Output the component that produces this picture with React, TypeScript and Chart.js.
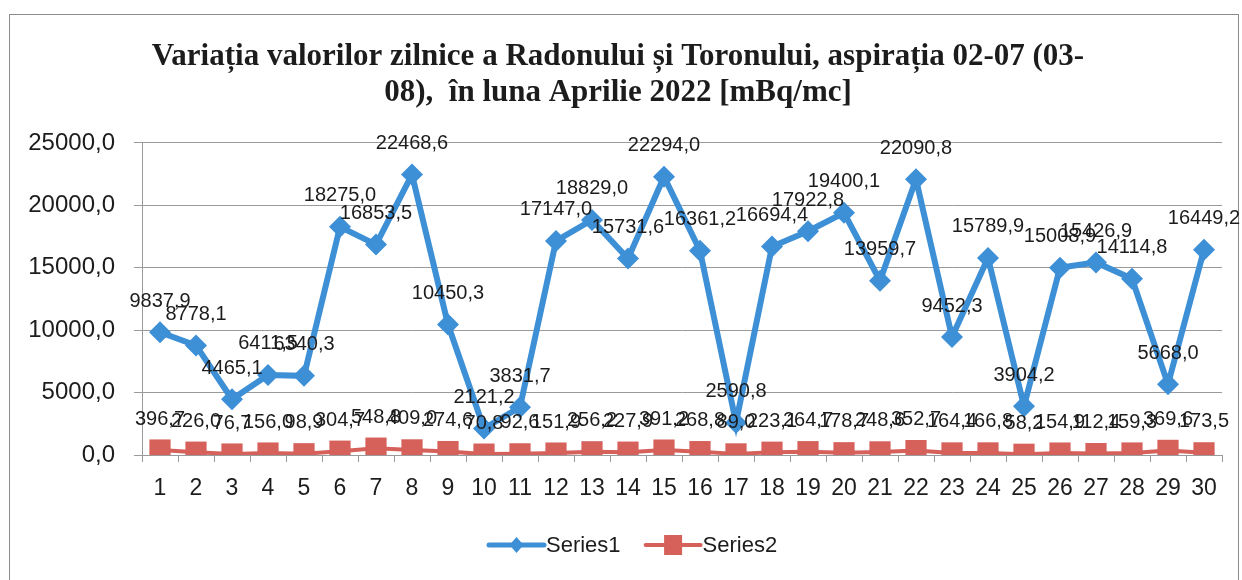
import React, { useEffect, useRef } from 'react';
import { Chart, registerables } from 'chart.js';

Chart.register(...registerables);

const titleLines = [
  'Variația valorilor zilnice a Radonului și Toronului, aspirația 02-07 (03-',
  '08),  în luna Aprilie 2022 [mBq/mc]',
];
const days = ['1', '2', '3', '4', '5', '6', '7', '8', '9', '10', '11', '12', '13', '14', '15', '16', '17', '18', '19', '20', '21', '22', '23', '24', '25', '26', '27', '28', '29', '30'];
const series1Name = 'Series1';
const series2Name = 'Series2';
const series1 = [9837.9, 8778.1, 4465.1, 6411.5, 6340.3, 18275.0, 16853.5, 22468.6, 10450.3, 2121.2, 3831.7, 17147.0, 18829.0, 15731.6, 22294.0, 16361.2, 2590.8, 16694.4, 17922.8, 19400.1, 13959.7, 22090.8, 9452.3, 15789.9, 3904.2, 15008.9, 15426.9, 14114.8, 5668.0, 16449.2];
const series2 = [396.7, 226.0, 76.7, 156.0, 98.9, 304.7, 548.8, 409.0, 274.6, 70.8, 92.6, 151.9, 256.2, 227.9, 391.2, 268.8, 89.0, 223.1, 264.7, 178.7, 248.6, 352.7, 164.4, 166.8, 58.2, 154.9, 112.4, 159.3, 369.6, 173.5];
const yMin = 0;
const yMax = 25000;
const yStep = 5000;

const BLUE = '#3d8fd6';
const RED = '#d6605a';
const TEXT = '#1c1c1c';
const GRID = '#9a9a9a';
const SANS = '"Liberation Sans", Arial, sans-serif';

const fmt = (v: number) => v.toFixed(1).replace('.', ',');

const dataLabelPlugin = {
  id: 'dataLabels',
  afterDatasetsDraw(chart: any) {
    const ctx = chart.ctx;
    ctx.save();
    ctx.font = `20px ${SANS}`;
    ctx.fillStyle = TEXT;
    ctx.textAlign = 'center';
    ctx.textBaseline = 'middle';
    chart.data.datasets.forEach((ds: any, i: number) => {
      const meta = chart.getDatasetMeta(i);
      meta.data.forEach((pt: any, j: number) => {
        ctx.fillText(fmt(ds.data[j]), pt.x, pt.y - 31);
      });
    });
    ctx.restore();
  },
};

const legendPlugin = {
  id: 'excelLegend',
  afterDraw(chart: any) {
    const ctx = chart.ctx;
    const y = 545;
    let x = 489;
    ctx.save();
    ctx.font = `22px ${SANS}`;
    ctx.textBaseline = 'middle';
    ctx.textAlign = 'left';
    chart.data.datasets.forEach((ds: any, i: number) => {
      const lineLen = 55;
      ctx.strokeStyle = ds.borderColor;
      ctx.lineWidth = i === 0 ? 5 : 4;
      ctx.lineCap = 'round';
      ctx.beginPath();
      ctx.moveTo(x, y);
      ctx.lineTo(x + lineLen, y);
      ctx.stroke();
      const cx = x + lineLen / 2;
      ctx.fillStyle = ds.backgroundColor;
      ctx.beginPath();
      if (i === 0) {
        ctx.moveTo(cx, y - 8);
        ctx.lineTo(cx + 7, y);
        ctx.lineTo(cx, y + 8);
        ctx.lineTo(cx - 7, y);
        ctx.closePath();
      } else {
        ctx.rect(cx - 9, y - 10, 18, 20);
      }
      ctx.fill();
      ctx.fillStyle = TEXT;
      const tx = x + lineLen + 2;
      ctx.fillText(ds.label, tx, y + 1);
      x = tx + ctx.measureText(ds.label).width + 25;
    });
    ctx.restore();
  },
};

export default function App() {
  const canvasRef = useRef<HTMLCanvasElement | null>(null);

  useEffect(() => {
    const canvas = canvasRef.current;
    if (!canvas) return;
    const chart = new Chart(canvas, {
      type: 'line',
      data: {
        labels: days,
        datasets: [
          {
            label: series1Name,
            data: series1,
            borderColor: BLUE,
            backgroundColor: BLUE,
            borderWidth: 6,
            pointStyle: 'rectRot',
            pointRadius: 11,
            pointBorderWidth: 0,
            pointBackgroundColor: BLUE,
            tension: 0,
          },
          {
            label: series2Name,
            data: series2,
            borderColor: RED,
            backgroundColor: RED,
            borderWidth: 4,
            pointStyle: 'rect',
            pointRadius: 15,
            pointBorderWidth: 0,
            pointBackgroundColor: RED,
            tension: 0,
          },
        ],
      },
      options: {
        animation: false,
        responsive: false,
        maintainAspectRatio: false,
        layout: { padding: { left: 14, right: 20, top: 0, bottom: 75 } },
        plugins: {
          legend: { display: false },
          tooltip: { enabled: false },
          title: {
            display: true,
            text: titleLines,
            color: TEXT,
            font: { family: '"Liberation Serif", "Times New Roman", serif', size: 31, weight: 'bold', lineHeight: 1.16 },
            padding: { top: 39, bottom: 32 },
          },
        },
        scales: {
          x: {
            offset: true,
            grid: { display: true, drawOnChartArea: false, drawTicks: true, tickLength: 7, color: GRID, offset: true },
            border: { display: true, color: GRID, width: 1 },
            ticks: { color: TEXT, font: { family: SANS, size: 23 }, padding: 13, maxRotation: 0, autoSkip: false },
            afterFit: (scale: any) => { scale.height = 50; },
          },
          y: {
            min: yMin,
            max: yMax,
            grid: { color: GRID, drawTicks: true, tickLength: 8, lineWidth: 1 },
            border: { display: true, color: GRID, width: 1 },
            ticks: {
              stepSize: yStep,
              color: TEXT,
              font: { family: SANS, size: 24 },
              padding: 19,
              callback: (v: any) => fmt(Number(v)),
            },
            afterFit: (scale: any) => { scale.width = 128; },
          },
        },
      },
      plugins: [dataLabelPlugin, legendPlugin],
    });
    return () => chart.destroy();
  }, []);

  return (
    <div style={{ position: 'fixed', left: 0, top: 0, width: 1242, height: 580, overflow: 'hidden', background: '#ffffff' }}>
      <div style={{ position: 'absolute', left: 9, top: 14, width: 1228, height: 640, border: '1px solid #8c8c8c' }} />
      <canvas ref={canvasRef} width={1242} height={580} style={{ position: 'absolute', left: 0, top: 0, width: 1242, height: 580 }} />
    </div>
  );
}
